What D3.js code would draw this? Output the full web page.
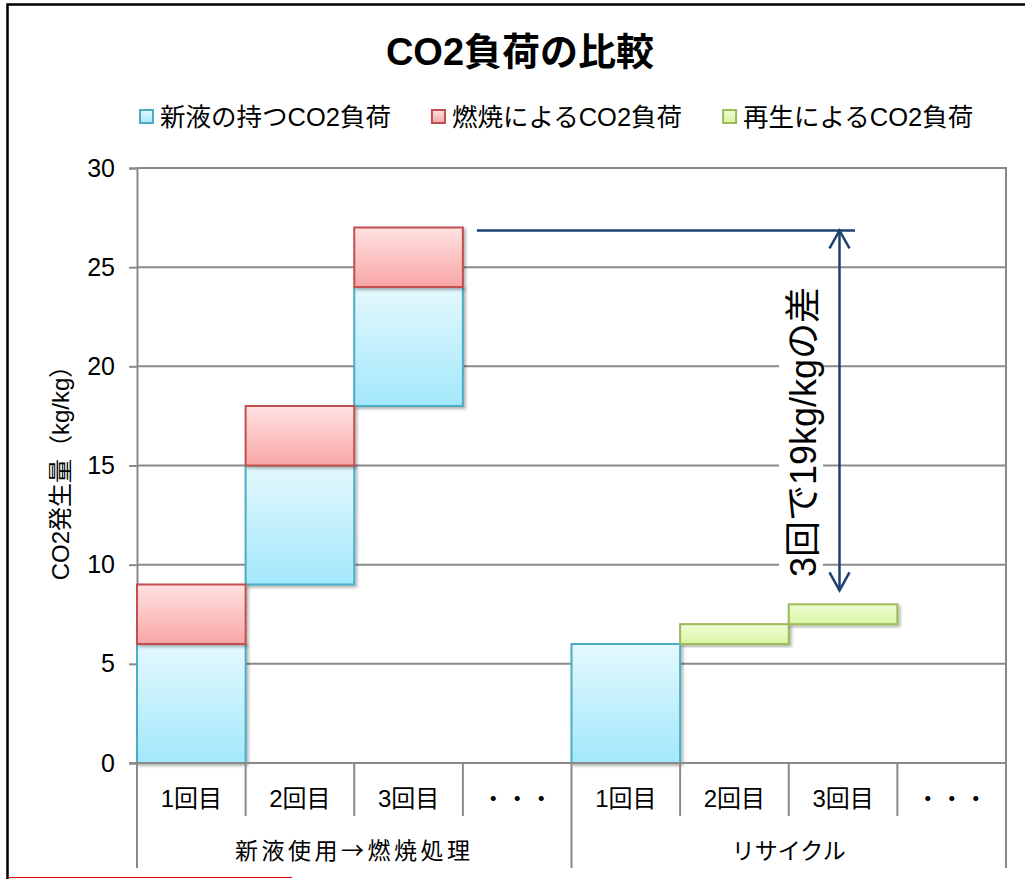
<!DOCTYPE html>
<html>
<head>
<meta charset="utf-8">
<script src="https://cdn.jsdelivr.net/npm/d3@7"></script>
<style>
  body { margin: 0; background: #fff; }
  text { font-family: "Liberation Sans", "Noto Sans CJK JP", sans-serif; fill: #000; }
</style>
</head>
<body>
<div id="chart"></div>
<script>
// data
const title = "CO2負荷の比較";
const groupLabels = ["新液使用→燃焼処理", "リサイクル"];
const roundLabels = ["1回目", "2回目", "3回目", "・・・"];
const seriesNames = ["新液の持つCO2負荷", "燃焼によるCO2負荷", "再生によるCO2負荷"];
// invisible base + three visible parts, one entry per category slot
const baseValues = [0, 9, 18, 0, 0, 6, 7, 0];
const newLiquidValues = [6, 6, 6, 0, 6, 0, 0, 0];
const burnValues = [3, 3, 3, 0, 0, 0, 0, 0];
const regenValues = [0, 0, 0, 0, 0, 1, 1, 0];
const yTicks = [0, 5, 10, 15, 20, 25, 30];
const yTitle = "CO2発生量（kg/kg）";
const noteText = "3回で19kg/kgの差";
const noteTop = 26.85, noteBottom = 8.7;

const width = 1025, height = 879;
const margin = { top: 168, right: 19, bottom: 114, left: 137 };

const svg = d3.select("#chart").append("svg")
  .attr("width", width)
  .attr("height", height);

const defs = svg.append("defs");
const grads = [
  { id: "gBlue", top: "#e4f8fd", bottom: "#a2e8fb" },
  { id: "gRed", top: "#ffe2e2", bottom: "#f8a6a5" },
  { id: "gGreen", top: "#f1fcd6", bottom: "#d8f5a2" }
];
grads.forEach((g) => {
  const lg = defs.append("linearGradient").attr("id", g.id)
    .attr("x1", 0).attr("y1", 0).attr("x2", 0).attr("y2", 1);
  lg.append("stop").attr("offset", "0%").attr("stop-color", g.top);
  lg.append("stop").attr("offset", "100%").attr("stop-color", g.bottom);
});
defs.append("filter").attr("id", "shadow")
  .attr("x", "-10%").attr("y", "-10%").attr("width", "130%").attr("height", "130%")
  .append("feDropShadow")
  .attr("dx", 2).attr("dy", 2).attr("stdDeviation", 1.5)
  .attr("flood-color", "#000").attr("flood-opacity", 0.3);

// outer frame
svg.append("rect")
  .attr("x", 7.5).attr("y", 4.5)
  .attr("width", width + 20).attr("height", height + 20)
  .attr("fill", "none").attr("stroke", "#000").attr("stroke-width", 2.5);
svg.append("line")
  .attr("x1", 8).attr("x2", 292).attr("y1", 877.5).attr("y2", 877.5)
  .attr("stroke", "#e00000").attr("stroke-width", 1);

const innerW = width - margin.left - margin.right;
const innerH = height - margin.top - margin.bottom - 2; // plot bottom at 765

const cats = d3.range(baseValues.length);
const x = d3.scaleBand().domain(cats).range([margin.left, margin.left + innerW]).padding(0);
const y = d3.scaleLinear().domain([0, 30]).range([margin.top + innerH, margin.top]);

const plotBottom = y(0);
const plotRight = margin.left + innerW;

// title
svg.append("text")
  .attr("x", 520).attr("y", 65)
  .attr("text-anchor", "middle")
  .style("font-size", "38px").style("font-weight", "bold")
  .text(title);

// legend
const legendColors = [
  { fill: "url(#gBlue)", stroke: "#4bacc6" },
  { fill: "url(#gRed)", stroke: "#c0504d" },
  { fill: "url(#gGreen)", stroke: "#9bbb59" }
];
let lx = 139;
seriesNames.forEach((name, i) => {
  const item = svg.append("g").attr("transform", "translate(" + lx + ",109)");
  item.append("rect")
    .attr("x", 1).attr("y", 1).attr("width", 13).attr("height", 13)
    .attr("fill", legendColors[i].fill)
    .attr("stroke", legendColors[i].stroke).attr("stroke-width", 2);
  const t = item.append("text")
    .attr("x", 21).attr("y", 17)
    .style("font-size", "25.5px")
    .text(name);
  lx += 21 + t.node().getComputedTextLength() + 40;
});

// gridlines
svg.append("g")
  .selectAll("line")
  .data(yTicks.filter((d) => d > 0))
  .enter().append("line")
  .attr("x1", margin.left).attr("x2", plotRight)
  .attr("y1", (d) => y(d)).attr("y2", (d) => y(d))
  .attr("stroke", "#8a8a8a").attr("stroke-width", 2);

// y axis
const yAxis = svg.append("g")
  .attr("transform", "translate(" + margin.left + ",0)")
  .call(d3.axisLeft(y).tickValues(yTicks).tickSize(8).tickPadding(14));
yAxis.select(".domain").attr("stroke", "#8a8a8a").attr("stroke-width", 2);
yAxis.selectAll(".tick line").attr("stroke", "#8a8a8a").attr("stroke-width", 2);
yAxis.selectAll(".tick text")
  .attr("fill", "#000")
  .style("font-size", "25px")
  .style("font-family", "'Liberation Sans', sans-serif");

svg.append("text")
  .attr("transform", "translate(60," + 467 + ") rotate(-90)")
  .attr("text-anchor", "middle")
  .attr("dominant-baseline", "central")
  .style("font-size", "24px")
  .text(yTitle);

// right border of plot
svg.append("line")
  .attr("x1", plotRight).attr("x2", plotRight)
  .attr("y1", margin.top - 1).attr("y2", plotBottom + 105)
  .attr("stroke", "#8a8a8a").attr("stroke-width", 2);

// stacked bars
const rows = cats.map((i) => ({
  idx: i,
  base: baseValues[i],
  newLiquid: newLiquidValues[i],
  burn: burnValues[i],
  regen: regenValues[i]
}));
const keys = ["base", "newLiquid", "burn", "regen"];
const series = d3.stack().keys(keys)(rows);
const styles = {
  newLiquid: legendColors[0],
  burn: legendColors[1],
  regen: legendColors[2]
};

series.filter((s) => s.key !== "base").forEach((s) => {
  svg.append("g")
    .selectAll("rect")
    .data(s.filter((d) => d[1] - d[0] > 0))
    .enter().append("rect")
    .attr("x", (d) => x(d.data.idx))
    .attr("y", (d) => y(d[1]))
    .attr("width", x.bandwidth())
    .attr("height", (d) => y(d[0]) - y(d[1]))
    .attr("fill", styles[s.key].fill)
    .attr("stroke", styles[s.key].stroke)
    .attr("stroke-width", 2)
    .attr("filter", "url(#shadow)");
});

// x axis line (bottom)
svg.append("line")
  .attr("x1", margin.left - 8).attr("x2", plotRight)
  .attr("y1", plotBottom).attr("y2", plotBottom)
  .attr("stroke", "#8a8a8a").attr("stroke-width", 2);

// category ticks and labels
const nPer = roundLabels.length;
cats.forEach((i) => {
  const isGroupEdge = i % nPer === 0;
  svg.append("line")
    .attr("x1", x(i)).attr("x2", x(i))
    .attr("y1", plotBottom).attr("y2", plotBottom + (isGroupEdge ? 105 : 53))
    .attr("stroke", "#8a8a8a").attr("stroke-width", 2);
  svg.append("text")
    .attr("x", x(i) + x.bandwidth() / 2)
    .attr("y", plotBottom + 44)
    .attr("text-anchor", "middle")
    .style("font-size", "24px")
    .text(roundLabels[i % nPer]);
});
groupLabels.forEach((g, gi) => {
  const x0 = x(gi * nPer);
  const x1 = x(gi * nPer + nPer - 1) + x.bandwidth();
  svg.append("text")
    .attr("x", (x0 + x1) / 2)
    .attr("y", plotBottom + 96)
    .attr("text-anchor", "middle")
    .style("font-family", "'Noto Sans CJK JP', sans-serif")
    .style("font-size", "23px")
    .style("letter-spacing", gi === 0 ? "3.5px" : "0px")
    .text(g);
});

// annotation
const navy = "#1f3f6e";
const ax = 839.5;
svg.append("line")
  .attr("x1", x(2) + x.bandwidth() + 14).attr("x2", 855)
  .attr("y1", y(noteTop)).attr("y2", y(noteTop))
  .attr("stroke", navy).attr("stroke-width", 2.5);
svg.append("line")
  .attr("x1", ax).attr("x2", ax)
  .attr("y1", y(noteTop)).attr("y2", y(noteBottom))
  .attr("stroke", navy).attr("stroke-width", 2.5);
svg.append("path")
  .attr("d", "M" + (ax - 10) + "," + (y(noteTop) + 18) + "L" + ax + "," + y(noteTop) + "L" + (ax + 10) + "," + (y(noteTop) + 18))
  .attr("fill", "none").attr("stroke", navy).attr("stroke-width", 2.5);
svg.append("path")
  .attr("d", "M" + (ax - 10) + "," + (y(noteBottom) - 18) + "L" + ax + "," + y(noteBottom) + "L" + (ax + 10) + "," + (y(noteBottom) - 18))
  .attr("fill", "none").attr("stroke", navy).attr("stroke-width", 2.5);

const noteCy = 432;
svg.append("rect")
  .attr("x", 779).attr("y", 282)
  .attr("width", 44).attr("height", 300)
  .attr("fill", "#fff");
svg.append("text")
  .attr("transform", "translate(803," + noteCy + ") rotate(-90)")
  .attr("text-anchor", "middle")
  .attr("dominant-baseline", "central")
  .style("font-size", "36px")
  .text(noteText);
</script>
</body>
</html>
